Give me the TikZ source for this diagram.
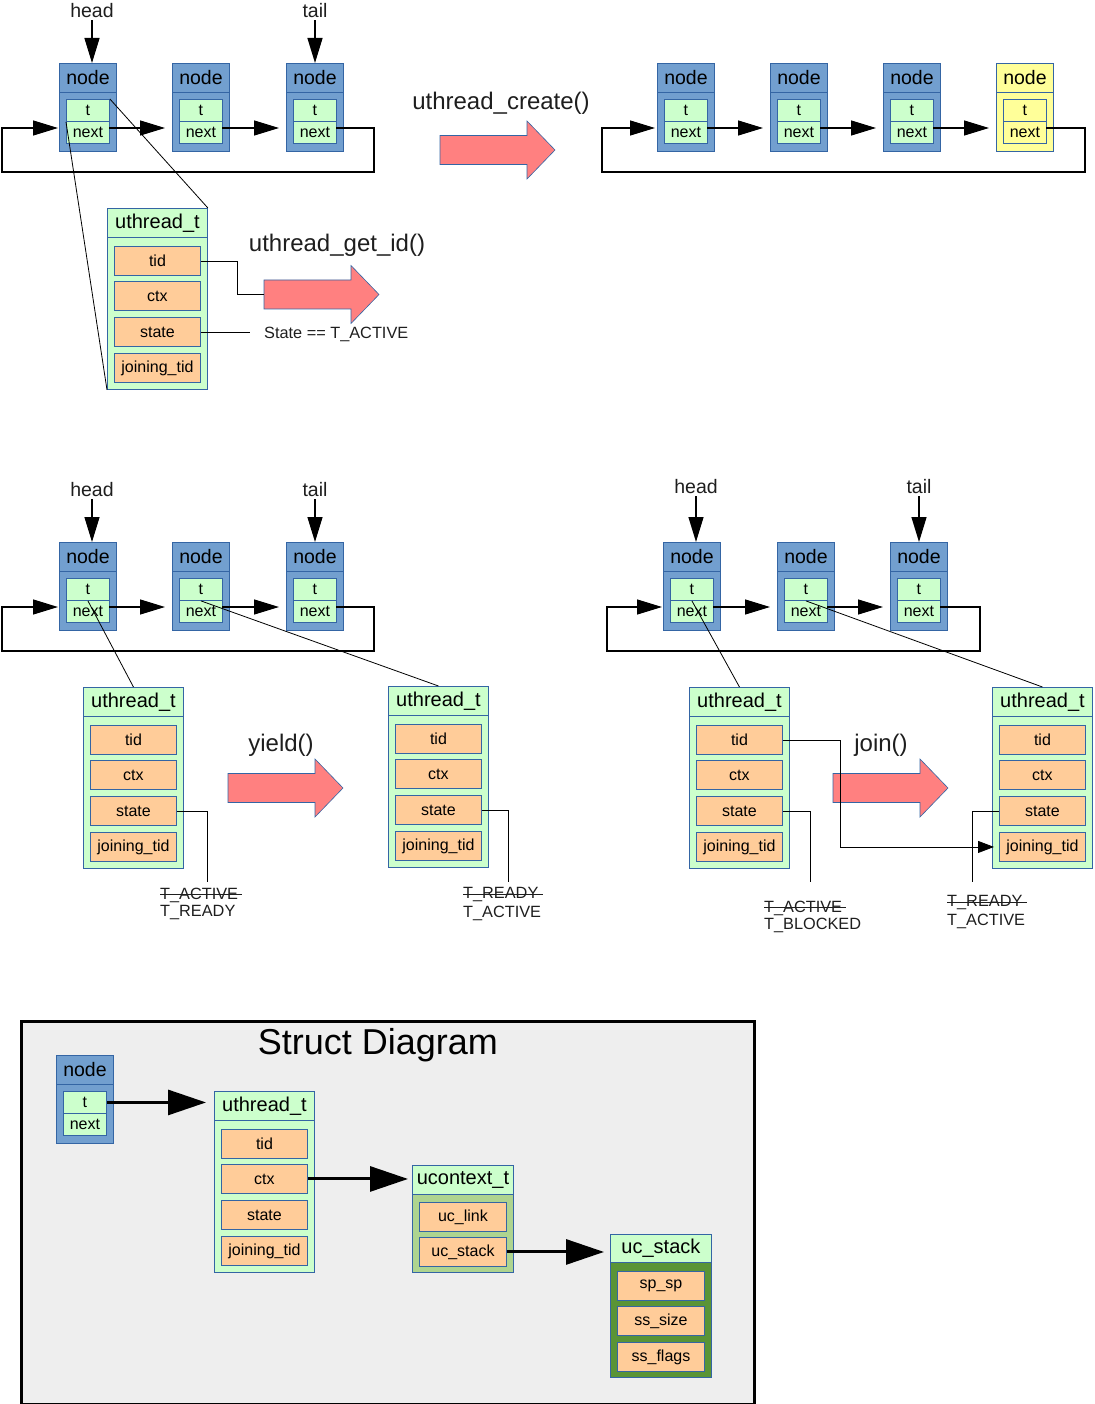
\documentclass[tikz,border=0pt]{standalone}
\usepackage{fontspec}
\setmainfont{Liberation Sans}
\usetikzlibrary{arrows.meta}
\definecolor{bord}{HTML}{3465A4}
\definecolor{nblue}{HTML}{729FCF}
\definecolor{lgreen}{HTML}{CCFFCC}
\definecolor{forange}{HTML}{FFCC99}
\definecolor{yel}{HTML}{FFFF99}
\definecolor{salm}{HTML}{FF8080}
\definecolor{midgreen}{HTML}{AED48F}
\definecolor{dkgreen}{HTML}{5A9436}
\definecolor{framebg}{HTML}{EEEEEE}
\definecolor{txt}{HTML}{1E1E1E}
\newcommand\fnS{\fontsize{16}{18}\selectfont}
\newcommand\fnL{\fontsize{20}{22}\selectfont}
\tikzset{
  box/.style={draw=bord, line width=0.9pt, inner sep=0pt, anchor=north west},
  arr/.style={line width=1.3pt, -{Triangle[length=25pt,width=15pt]}},
  bigarr/.style={line width=3pt, -{Triangle[length=38pt,width=25pt]}},
  thinl/.style={line width=0.8pt},
  lblL/.style={font=\fontsize{19.5}{22}\selectfont, text=txt, inner sep=2pt},
  lblXL/.style={font=\fontsize{24}{27}\selectfont, text=txt, inner sep=0pt},
  lblM/.style={font=\fontsize{16.3}{19}\selectfont, text=txt, inner sep=0pt, anchor=west},
}
% list node: name, x, y, outer fill, inner fill
\newcommand\lnode[5]{%
  \node[box, fill=#4, minimum width=57pt, minimum height=29pt, font=\fontsize{19.5}{22}\selectfont] (#1) at (#2,#3) {node};
  \node[box, fill=#4, minimum width=57pt, minimum height=59pt] (#1b) at ({#2},{#3+29}) {};
  \node[box, fill=#5, minimum width=43pt, minimum height=22pt, font=\fnS] (#1t) at ({#2+7},{#3+36}) {t};
  \node[box, fill=#5, minimum width=43pt, minimum height=22pt, font=\fnS] (#1n) at ({#2+7},{#3+58}) {next};
  \coordinate (#1in) at ({#2},{#3+65});
  \coordinate (#1out) at ({#2+50},{#3+65});
}
% field: name, x, y, width, text
\newcommand\fld[5]{%
  \node[box, fill=forange, minimum width=#4pt, minimum height=29pt, font=\fnS] (#1) at ({#2},{#3}) {#5};
}
% uthread_t: name, x, y
\newcommand\uthr[3]{%
  \node[box, fill=lgreen, minimum width=100pt, minimum height=29pt, font=\fnL] (#1H) at (#2,#3) {uthread\_t};
  \node[box, fill=lgreen, minimum width=100pt, minimum height=152pt] (#1B) at ({#2},{#3+29}) {};
  \fld{#1tid}{#2+7}{#3+38}{86}{tid}
  \fld{#1ctx}{#2+7}{#3+73}{86}{ctx}
  \fld{#1st}{#2+7}{#3+109}{86}{state}
  \fld{#1jt}{#2+7}{#3+145}{86}{joining\_tid}
}
% big arrow: name, x, ycenter
\newcommand\bigarrow[3]{%
  \draw[draw=bord, line width=0.6pt, fill=salm] (#2,{#3-14.5}) -- ({#2+87},{#3-14.5}) -- ({#2+87},{#3-29}) -- ({#2+115},#3) -- ({#2+87},{#3+29}) -- ({#2+87},{#3+14.5}) -- (#2,{#3+14.5}) -- cycle;
  \coordinate (#1) at (#2,#3);
}
% struck label: name, x, y, text
\newcommand\strk[4]{%
  \node[lblM] (#1) at (#2,#3) {#4};
  \draw[line width=0.8pt, txt] ([yshift=1pt]#1.west) -- ([xshift=4pt,yshift=1pt]#1.east);
}
\begin{document}
\begin{tikzpicture}[x=1pt,y=-1pt]
\useasboundingbox (0,0) rectangle (1094,1404);

% ================= top-left =================
\lnode{a1}{59}{63}{nblue}{lgreen}
\lnode{a2}{172}{63}{nblue}{lgreen}
\lnode{a3}{286}{63}{nblue}{lgreen}
\node[lblL] (ah) at (92,11) {head};
\node[lblL] (at) at (315,11) {tail};
\draw[arr] (ah.south) -- (ah.south |- a1.north);
\draw[arr] (at.south) -- (at.south |- a3.north);
\draw[arr, shorten >=7pt] (a1out) -- (a2in);
\draw[arr, shorten >=7pt] (a2out) -- (a3in);
\draw[arr, shorten >=1pt] (a3out) -- ++(38,0) |- ([xshift=-57pt,yshift=-44pt]a1in) |- (a1in);

\uthr{u1}{107}{208}
\draw[thinl] (a1t.north east) -- (u1H.north east);
\draw[thinl] (a1t.south west) -- (u1B.south west);

\bigarrow{g1}{264}{294.5}
\draw[thinl] (u1tid.east) -- ++(36,0) |- (g1);
\node[lblXL] (gid) at (337,245) {uthread\_get\_id()};
\node[lblM] (stl) at (264,334) {State == T\_ACTIVE};
\draw[thinl] (u1st.east) -- ([xshift=-14pt]stl.west |- u1st.east);

% ================= create =================
\node[lblXL] (cr) at (501,103) {uthread\_create()};
\bigarrow{g2}{440}{150}

% ================= top-right =================
\lnode{b1}{657}{63}{nblue}{lgreen}
\lnode{b2}{770}{63}{nblue}{lgreen}
\lnode{b3}{883}{63}{nblue}{lgreen}
\lnode{b4}{996}{63}{yel}{yel}
\draw[arr, shorten >=7pt] (b1out) -- (b2in);
\draw[arr, shorten >=7pt] (b2out) -- (b3in);
\draw[arr, shorten >=7pt] (b3out) -- (b4in);
\draw[arr, shorten >=2pt] (b4out) -- ++(39,0) |- ([xshift=-55pt,yshift=-44pt]b1in) |- (b1in);

% ================= middle-left =================
\lnode{c1}{59}{542}{nblue}{lgreen}
\lnode{c2}{172}{542}{nblue}{lgreen}
\lnode{c3}{286}{542}{nblue}{lgreen}
\node[lblL] (ch) at (92,490) {head};
\node[lblL] (ct) at (315,490) {tail};
\draw[arr] (ch.south) -- (ch.south |- c1.north);
\draw[arr] (ct.south) -- (ct.south |- c3.north);
\draw[arr, shorten >=7pt] (c1out) -- (c2in);
\draw[arr, shorten >=7pt] (c2out) -- (c3in);
\draw[arr, shorten >=1pt] (c3out) -- ++(38,0) |- ([xshift=-57pt,yshift=-44pt]c1in) |- (c1in);

\uthr{uA}{83}{687}
\uthr{uB}{388}{686}
\draw[thinl] (c1t.south) -- (uAH.north);
\draw[thinl] (c2t.south) -- (uBH.north);

\node[lblXL] (yl) at (281,745) {yield()};
\bigarrow{g3}{228}{788}

\coordinate (sA) at (207,882);
\draw[thinl] (uAst.east) -| (sA);
\strk{lA1}{160}{895}{T\_ACTIVE}
\node[lblM] (lA2) at (160,913) {T\_READY};
\coordinate (sB) at (508,882);
\draw[thinl] (uBst.east) -| (sB);
\strk{lB1}{463}{895}{T\_READY}
\node[lblM] (lB2) at (463,913) {T\_ACTIVE};

% ================= middle-right =================
\lnode{d1}{663}{542}{nblue}{lgreen}
\lnode{d2}{777}{542}{nblue}{lgreen}
\lnode{d3}{890}{542}{nblue}{lgreen}
\node[lblL] (dh) at (696,487) {head};
\node[lblL] (dt) at (919,487) {tail};
\draw[arr] (dh.south) -- (dh.south |- d1.north);
\draw[arr] (dt.south) -- (dt.south |- d3.north);
\draw[arr, shorten >=7pt] (d1out) -- (d2in);
\draw[arr, shorten >=7pt] (d2out) -- (d3in);
\draw[arr, shorten >=1pt] (d3out) -- ++(40,0) |- ([xshift=-56pt,yshift=-44pt]d1in) |- (d1in);

\uthr{uC}{689}{687}
\uthr{uD}{992}{687}
\draw[thinl] (d1t.south) -- (uCH.north);
\draw[thinl] (d2t.south) -- (uDH.north);

\node[lblXL] (jn) at (881,745) {join()};
\bigarrow{g4}{833}{788}
\draw[thinl, -{Triangle[length=16pt,width=12pt]}, shorten >=5pt] (uCtid.east) -- ++(57,0) |- (uDjt.west);

\coordinate (sC) at (810,882);
\draw[thinl] (uCst.east) -| (sC);
\strk{lC1}{764}{908}{T\_ACTIVE}
\node[lblM] (lC2) at (764,925) {T\_BLOCKED};
\coordinate (sD) at (972,882);
\draw[thinl] (uDst.west) -| (sD);
\strk{lD1}{947}{903}{T\_READY}
\node[lblM] (lD2) at (947,921) {T\_ACTIVE};

% ================= struct diagram =================
\node[draw=black, line width=3pt, fill=framebg, minimum width=733pt, minimum height=383pt, inner sep=0pt, anchor=north west] (frame) at (20,1019.5) {};
\node[font=\fontsize{36}{40}\selectfont, text=black, inner sep=0pt] (ttl) at (378,1045) {Struct Diagram};

\lnode{e1}{56}{1055}{nblue}{lgreen}
\uthr{uE}{214}{1091}

\node[box, fill=lgreen, minimum width=101pt, minimum height=29pt, font=\fnL] (ucH) at (412,1165) {ucontext\_t};
\node[box, fill=midgreen, minimum width=101pt, minimum height=78pt] (ucB) at (412,1194) {};
\fld{ucl}{419}{1202}{87}{uc\_link}
\fld{ucs}{419}{1237}{87}{uc\_stack}

\node[box, fill=lgreen, minimum width=101pt, minimum height=28pt, font=\fnL] (usH) at (610,1234) {uc\_stack};
\node[box, fill=dkgreen, minimum width=101pt, minimum height=115pt] (usB) at (610,1262) {};
\fld{usp}{617}{1271}{87}{sp\_sp}
\fld{uss}{617}{1306}{87}{ss\_size}
\fld{usf}{617}{1342}{87}{ss\_flags}

\draw[bigarr, shorten >=8pt] (e1t.east) -- (e1t.east -| uEH.west);
\draw[bigarr, shorten >=4pt] (uEctx.east) -- (uEctx.east -| ucH.west);
\draw[bigarr, shorten >=6pt] (ucs.east) -- (ucs.east -| usH.west);

\end{tikzpicture}
\end{document}
